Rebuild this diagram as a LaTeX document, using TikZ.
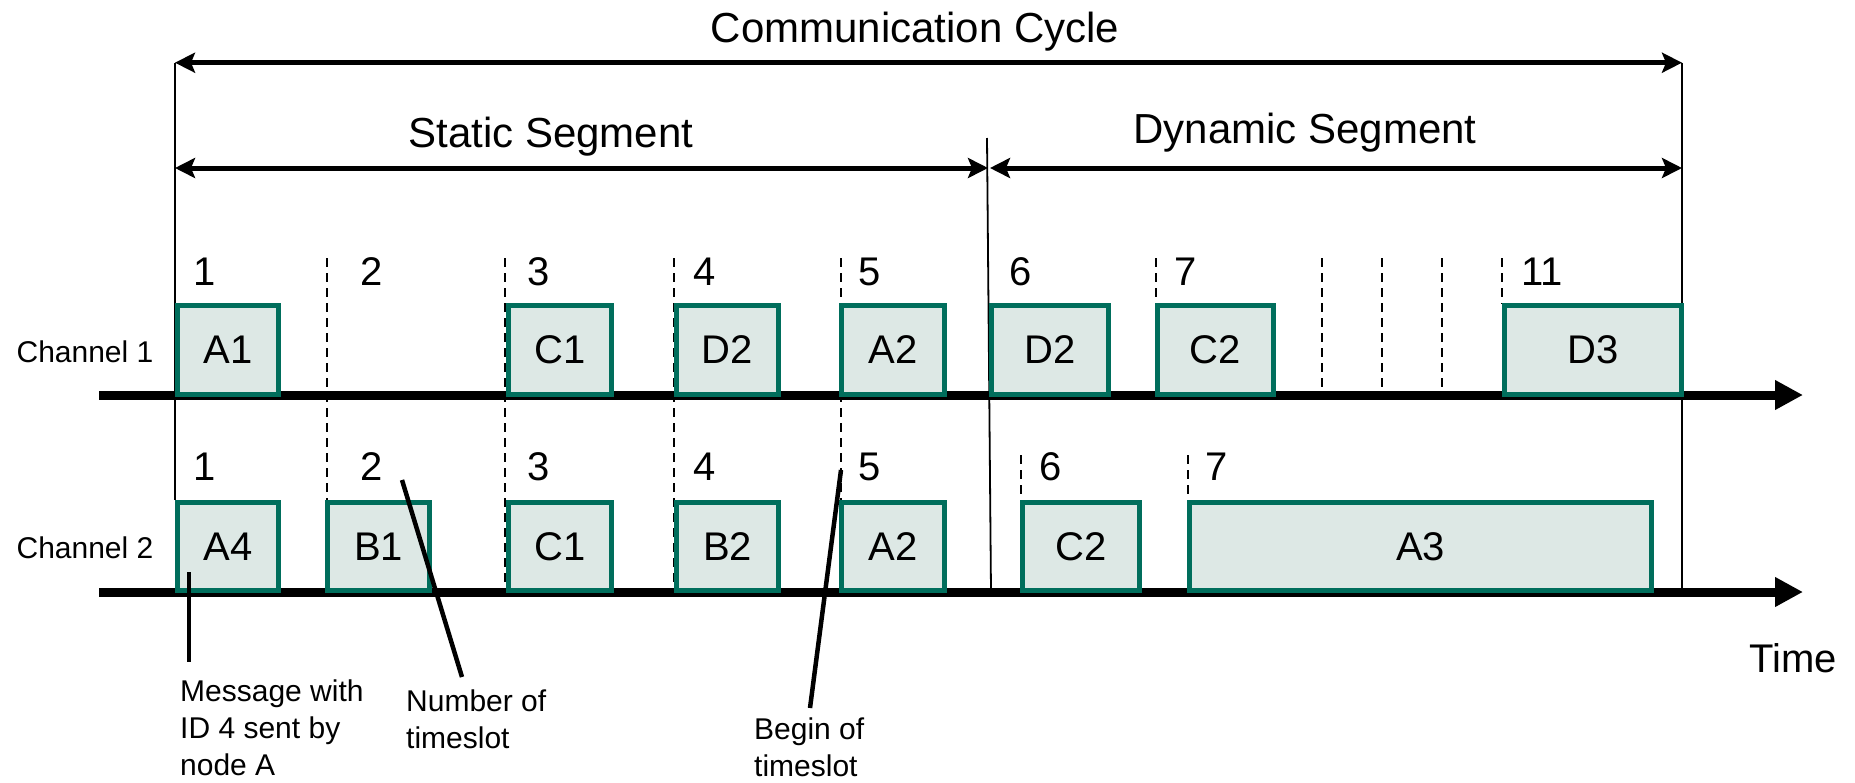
\documentclass[tikz,border=0pt]{standalone}
\usepackage{fontspec}
\setmainfont{Liberation Sans}
\usetikzlibrary{arrows.meta}
\definecolor{boxedge}{HTML}{006E5C}
\definecolor{boxfill}{HTML}{DDE8E5}
\tikzset{
  msg/.style={draw=boxedge, fill=boxfill, line width=5pt, inner sep=0pt, font=\fontsize{40}{44}\selectfont},
  ch1box/.style={msg, minimum height=89pt},
  ch2box/.style={msg, minimum height=88pt},
  axisline/.style={line width=9pt, -{Triangle[length=28pt, width=28pt]}},
  span/.style={line width=5pt, {Stealth[length=20pt, width=20pt, inset=4pt]}-{Stealth[length=20pt, width=20pt, inset=4pt]}},
  thinline/.style={line width=1.8pt},
  slotline/.style={line width=1.6pt, dash pattern=on 9pt off 6pt},
  num/.style={inner sep=0pt, anchor=base, font=\fontsize{40}{44}\selectfont},
  title/.style={inner sep=0pt, anchor=base, font=\fontsize{42}{46}\selectfont},
  chlabel/.style={inner sep=0pt, font=\fontsize{30}{34}\selectfont},
  note/.style={inner sep=0pt, anchor=north west, align=left, font=\fontsize{30}{37}\selectfont},
  leader/.style={line width=4.5pt},
}
\begin{document}
\begin{tikzpicture}[x=1pt, y=-1pt]
\useasboundingbox (0,0) rectangle (1855,782);

% titles
\node[title] (tcc) at (915,42) {Communication Cycle};
\node[title] (tss) at (551,147) {Static Segment};
\node[title] (tds) at (1305,143) {Dynamic Segment};

% frame lines
\coordinate (lt) at (175,62.7);
\coordinate (lb) at (175,500);
\coordinate (rt) at (1682,62.7);
\coordinate (rb) at (1682,592);
\coordinate (dt) at (987,138);
\coordinate (db) at (991,592);
\draw[thinline] (lt) -- (lb);
\draw[thinline] (rt) -- (rb);
\draw[thinline] (dt) -- (db);

% span arrows
\coordinate (s1) at (175,168);
\coordinate (s2) at (988,168);
\coordinate (s3) at (990,168);
\coordinate (s4) at (1682,168);
\draw[span] (lt) -- (rt);
\draw[span] (s1) -- (s2);
\draw[span] (s3) -- (s4);

% slot lines
\foreach \x in {327,505,674,841} {
  \draw[slotline] (\x,258) -- (\x,592);
}
\foreach \x in {1156,1502} {
  \draw[slotline] (\x,258) -- (\x,304);
}
\foreach \x in {1322,1382,1442} {
  \draw[slotline] (\x,258) -- (\x,392);
}
\draw[slotline] (1021,455) -- (1021,590);
\draw[slotline] (1188,455) -- (1188,500);

% axes
\coordinate (a1s) at (99,395);
\coordinate (a1e) at (1803,395);
\coordinate (a2s) at (99,592);
\coordinate (a2e) at (1803,592);
\draw[axisline] (a1s) -- (a1e);
\draw[axisline] (a2s) -- (a2e);

% channel labels
\node[chlabel] (c1) at (85,352) {Channel 1};
\node[chlabel] (c2) at (85,548) {Channel 2};

% channel 1 boxes
\node[ch1box, minimum width=101pt] (b11) at (228,349.5) {A1};
\node[ch1box, minimum width=103pt] (b13) at (560,349.5) {C1};
\node[ch1box, minimum width=102pt] (b14) at (727.5,349.5) {D2};
\node[ch1box, minimum width=103pt] (b15) at (893,349.5) {A2};
\node[ch1box, minimum width=117pt] (b16) at (1050,349.5) {D2};
\node[ch1box, minimum width=116pt] (b17) at (1215.5,349.5) {C2};
\node[ch1box, minimum width=177pt] (b111) at (1593,349.5) {D3};

% channel 2 boxes
\node[ch2box, minimum width=101pt] (b21) at (228,546.5) {A4};
\node[ch2box, minimum width=102pt] (b22) at (378.5,546.5) {B1};
\node[ch2box, minimum width=103pt] (b23) at (560,546.5) {C1};
\node[ch2box, minimum width=102pt] (b24) at (727.5,546.5) {B2};
\node[ch2box, minimum width=103pt] (b25) at (893,546.5) {A2};
\node[ch2box, minimum width=117pt] (b26) at (1081,546.5) {C2};
\node[ch2box, minimum width=462pt] (b27) at (1420.5,546.5) {A3};

% slot numbers channel 1
\node[num] (n11) at (205,285) {1};
\node[num] (n12) at (372,285) {2};
\node[num] (n13) at (539,285) {3};
\node[num] (n14) at (705,285) {4};
\node[num] (n15) at (870,285) {5};
\node[num] (n16) at (1021,285) {6};
\node[num] (n17) at (1186,285) {7};
\node[num] (n111) at (1542,285) {11};

% slot numbers channel 2
\node[num] (n21) at (205,480) {1};
\node[num] (n22) at (372,480) {2};
\node[num] (n23) at (539,480) {3};
\node[num] (n24) at (705,480) {4};
\node[num] (n25) at (870,480) {5};
\node[num] (n26) at (1051,480) {6};
\node[num] (n27) at (1217,480) {7};

% time label
\node[title, font=\fontsize{40}{44}\selectfont] (time) at (1793,672) {Time};

% annotations
\node[note] (m1) at (180,680) {Message with\\ID 4 sent by\\node A};
\node[note] (m2) at (406,690) {Number of\\timeslot};
\node[note] (m3) at (754,718) {Begin of\\timeslot};

\coordinate (p1a) at (189,572);
\coordinate (p1b) at (189,662);
\coordinate (p2a) at (402,480);
\coordinate (p2b) at (462,677);
\coordinate (p3a) at (841,470);
\coordinate (p3b) at (810,708);
\draw[leader] (p1a) -- (p1b);
\draw[leader] (p2a) -- (p2b);
\draw[leader] (p3a) -- (p3b);
\end{tikzpicture}
\end{document}
